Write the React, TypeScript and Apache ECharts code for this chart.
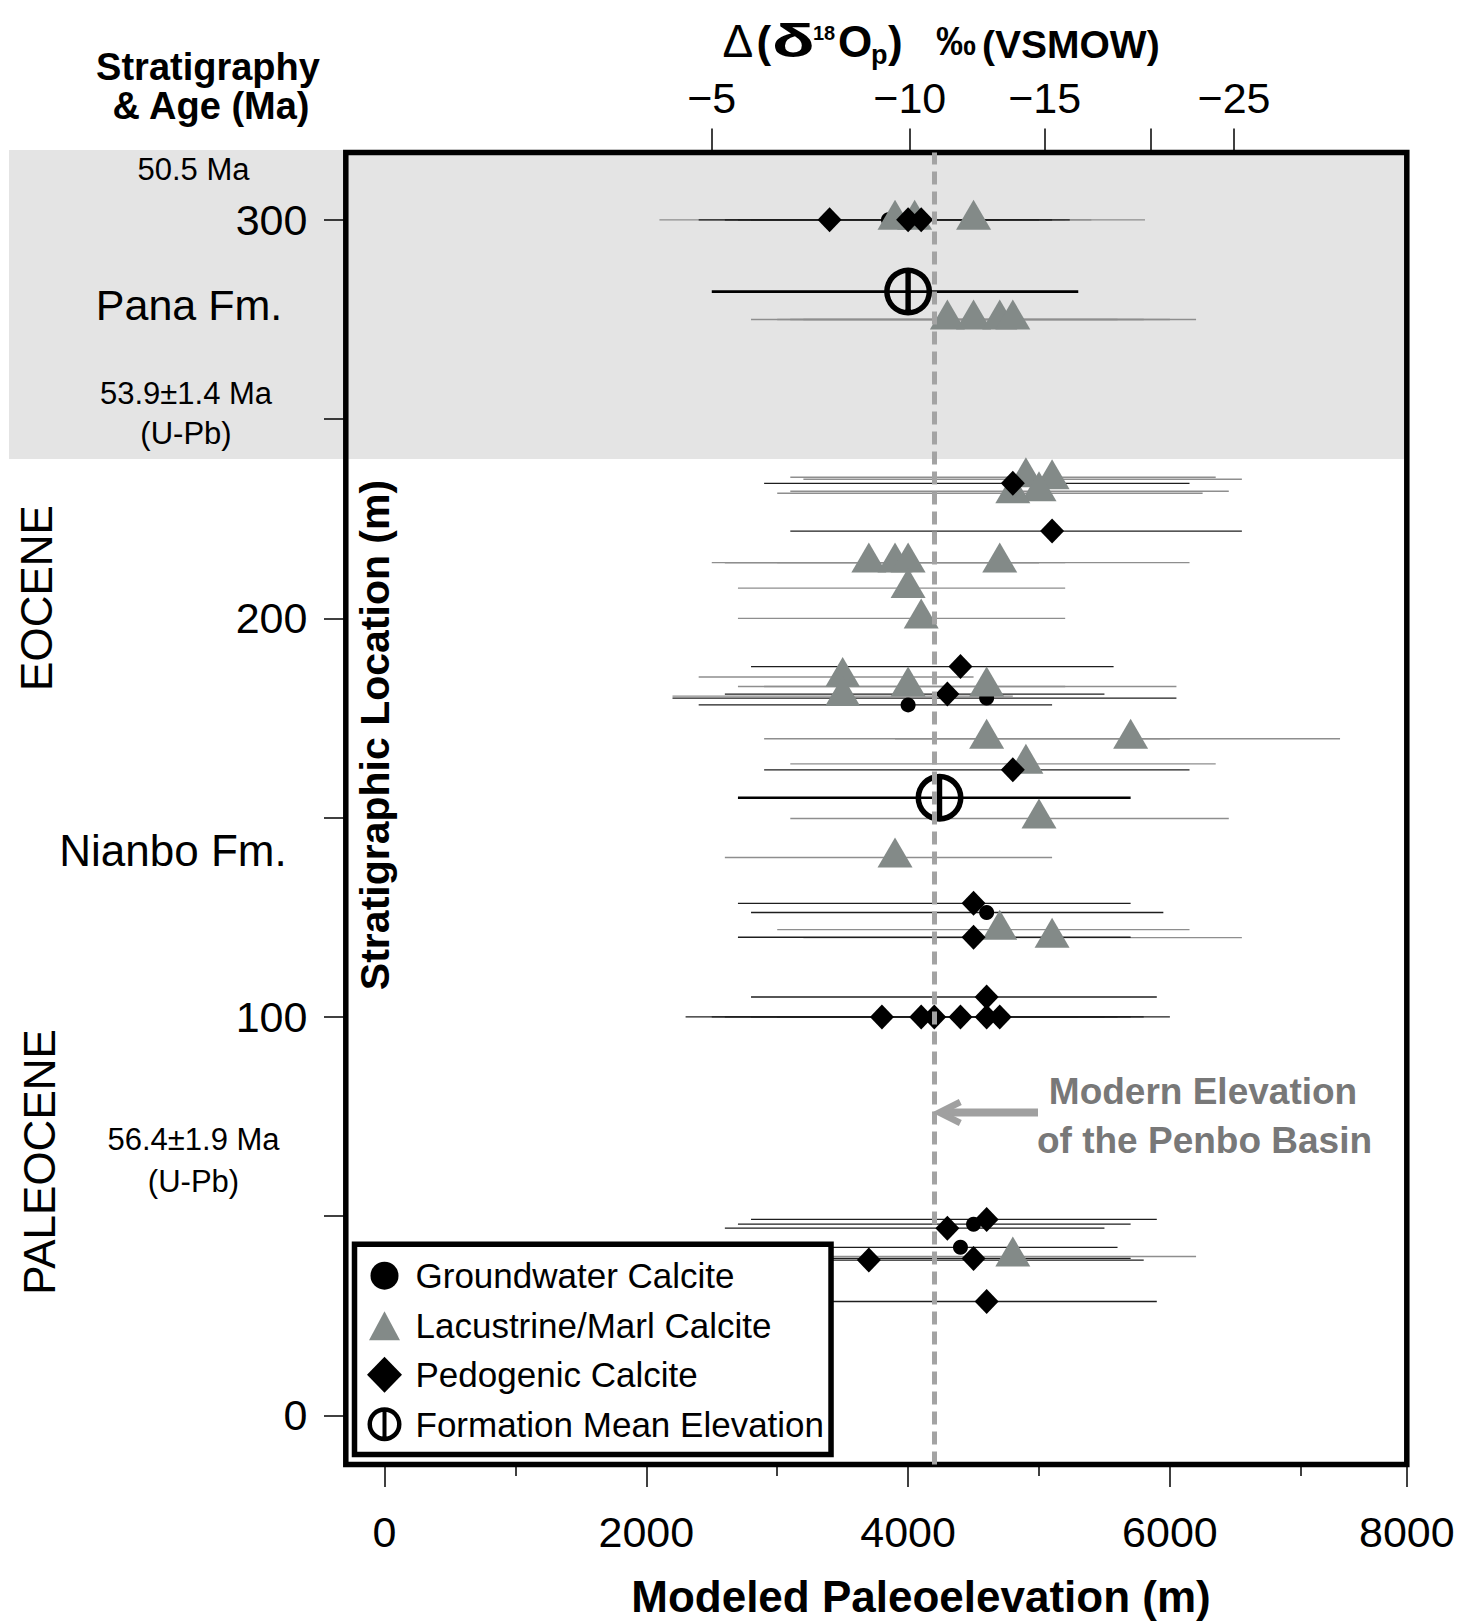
import React, { useEffect, useRef } from 'react';
import * as echarts from 'echarts';

// ---------------- data ----------------
// each row: [modeled paleoelevation (m), stratigraphic location (m), error low (m), error high (m)]
const groundwaterCalcite: number[][] = [
  [3850, 300, 2600, 5000],
  [4600, 180, 2200, 6050],
  [4000, 178.3, 2400, 5100],
  [4600, 126.2, 2800, 5950],
  [4500, 48, 2700, 5700],
  [4400, 42.2, 2700, 5600],
];

const lacustrineCalcite: number[][] = [
  [3900, 300, 2100, 5200],
  [4050, 300, 2600, 5400],
  [4500, 300, 3000, 5810],
  [4300, 275, 2800, 5600],
  [4500, 275, 3000, 5800],
  [4700, 275, 3100, 6000],
  [4800, 275, 3200, 6200],
  [4900, 235.4, 3100, 6350],
  [5100, 234.9, 3200, 6550],
  [5000, 231.9, 3100, 6450],
  [4800, 231.4, 3000, 6250],
  [3700, 214, 2500, 5000],
  [3900, 214, 2600, 5200],
  [4000, 214, 2600, 5000],
  [4700, 214, 3000, 6150],
  [4000, 207.6, 2700, 5200],
  [4100, 200, 2700, 5200],
  [3500, 185.3, 2400, 4500],
  [4000, 182.9, 2700, 5200],
  [4600, 182.9, 2900, 6050],
  [3500, 180.5, 2200, 4800],
  [4600, 169.8, 2900, 6000],
  [5700, 169.8, 3900, 7300],
  [4900, 163.5, 3100, 6350],
  [5000, 149.8, 3100, 6450],
  [3900, 140, 2600, 5100],
  [4700, 121.9, 3000, 6150],
  [5100, 119.9, 3200, 6550],
  [4800, 39.9, 3100, 6200],
];

const pedogenicCalcite: number[][] = [
  [3400, 300, 2400, 4700],
  [4000, 300, 2700, 5100],
  [4100, 300, 2800, 5235],
  [4800, 233.9, 2900, 6150],
  [5100, 221.9, 3100, 6550],
  [4400, 187.9, 2800, 5570],
  [4300, 181, 2600, 5500],
  [4800, 162, 2900, 6150],
  [4500, 128.5, 2700, 5700],
  [4500, 120, 2700, 5700],
  [4600, 105, 2800, 5900],
  [3800, 100, 2300, 5300],
  [4100, 100, 2500, 5500],
  [4200, 100, 2600, 5600],
  [4400, 100, 2800, 5800],
  [4600, 100, 3000, 6000],
  [4700, 100, 3100, 5700],
  [4600, 49.2, 2800, 5900],
  [4300, 47, 2600, 5500],
  [4500, 39.4, 2800, 5700],
  [3700, 39, 2000, 5800],
  [4600, 28.6, 2800, 5900],
];

const formationMean: number[][] = [
  [4000, 282, 2500, 5300], // Pana Fm.
  [4240, 155, 2700, 5700], // Nianbo Fm.
];

const MODERN_ELEVATION = 4200; // Penbo Basin
const PANA_BASE = 240; // base of shaded Pana Fm. interval (m)

// axes
const X_MIN = -296;
const X_MAX = 7810;
const Y_MIN = -12.3;
const Y_MAX = 316.9;
const bottomMajorTicks = [0, 2000, 4000, 6000, 7810];
const bottomMajorLabels = ['0', '2000', '4000', '6000', '8000'];
const bottomMinorTicks = [1000, 3000, 5000, 7000];
const topTicks = [2500, 4013, 5043, 5855, 6490];
const topLabels = ['\u22125', '\u221210', '\u221215', '', '\u221225'];
const leftTicks = [0, 50, 100, 150, 200, 250, 300];
const leftLabels = [0, 100, 200, 300];

// ---------------- styling ----------------
const W = 1477;
const H = 1623;
const FONT = '"Liberation Sans", Arial, Helvetica, sans-serif';
const TRI_COLOR = '#838a88';
const GRAY_BAR = '#8e8e8e';
const BLACK_BAR = '#1e1e1e';

const MEAN_SYMBOL =
  'path://M0 24A24 24 0 1 1 48 24A24 24 0 1 1 0 24ZM5.5 24A18.5 18.5 0 1 0 42.5 24A18.5 18.5 0 1 0 5.5 24ZM21.3 5L26.7 5L26.7 43L21.3 43Z';
const ICON_CIRCLE = 'path://M0 0M36 36M4 18A14 14 0 1 1 32 18A14 14 0 1 1 4 18Z';
const ICON_TRI = 'path://M0 0M36 36M18 4L33.5 33L2.5 33Z';
const ICON_DIAMOND = 'path://M0 0M36 36M18 0L35.5 18L18 36L0.5 18Z';
const ICON_MEAN =
  'path://M0 0M36 36M1 18A17 17 0 1 1 35 18A17 17 0 1 1 1 18ZM5.5 18A12.5 12.5 0 1 0 30.5 18A12.5 12.5 0 1 0 5.5 18ZM16 5L20 5L20 31L16 31Z';

function errorBars(name: string, data: number[][], color: string, width: number) {
  return {
    type: 'custom',
    name,
    xAxisIndex: 0,
    yAxisIndex: 0,
    silent: true,
    z: 2,
    data,
    encode: { x: [2, 3], y: 1 },
    renderItem: (params: any, api: any) => {
      const y = api.value(1);
      const a = api.coord([api.value(2), y]);
      const b = api.coord([api.value(3), y]);
      return {
        type: 'line',
        shape: { x1: a[0], y1: a[1], x2: b[0], y2: b[1] },
        style: { stroke: color, lineWidth: width },
      };
    },
  };
}

function txt(text: string, x: number, y: number, size: number, opts: any = {}) {
  return {
    type: 'text',
    x,
    y,
    rotation: opts.rotation || 0,
    scaleX: opts.scaleX || 1,
    z: 10,
    silent: true,
    style: {
      text,
      fontSize: size,
      fontWeight: opts.bold ? 'bold' : 'normal',
      fontFamily: FONT,
      fill: opts.color || '#000',
      align: opts.align || 'center',
      verticalAlign: 'middle',
    },
  };
}

const hiddenLine = { show: false, onZero: false };

export default function App() {
  const ref = useRef<HTMLDivElement>(null);

  useEffect(() => {
    const chart = echarts.init(ref.current!, null, { renderer: 'svg', width: W, height: H });

    const option: any = {
      animation: false,
      backgroundColor: '#ffffff',
      grid: {
        left: 345.8,
        top: 152.5,
        width: 1061,
        height: 1312,
        show: true,
        borderColor: '#000',
        borderWidth: 5.5,
        backgroundColor: 'transparent',
        containLabel: false,
        outerBoundsMode: 'none',
      },
      xAxis: [
        {
          type: 'value',
          min: X_MIN,
          max: X_MAX,
          position: 'bottom',
          axisLine: hiddenLine,
          splitLine: { show: false },
          axisTick: {
            show: true,
            inside: false,
            length: 22.5,
            lineStyle: { color: '#000', width: 1.5 },
            customValues: bottomMajorTicks,
          },
          axisLabel: {
            customValues: bottomMajorTicks,
            formatter: (v: number) => bottomMajorLabels[bottomMajorTicks.indexOf(v)] ?? '',
            margin: 46,
            fontSize: 43,
            color: '#000',
            fontFamily: FONT,
          },
        },
        {
          type: 'value',
          min: X_MIN,
          max: X_MAX,
          position: 'bottom',
          axisLine: hiddenLine,
          splitLine: { show: false },
          axisTick: {
            show: true,
            inside: false,
            length: 11.5,
            lineStyle: { color: '#000', width: 1.5 },
            customValues: bottomMinorTicks,
          },
          axisLabel: { show: false },
        },
        {
          type: 'value',
          min: X_MIN,
          max: X_MAX,
          position: 'top',
          axisLine: hiddenLine,
          splitLine: { show: false },
          axisTick: {
            show: true,
            inside: false,
            length: 24,
            lineStyle: { color: '#000', width: 1.5 },
            customValues: topTicks,
          },
          axisLabel: {
            customValues: topTicks,
            formatter: (v: number) => topLabels[topTicks.indexOf(v)] ?? '',
            margin: 33,
            fontSize: 43,
            color: '#000',
            fontFamily: FONT,
          },
        },
      ],
      yAxis: [
        {
          type: 'value',
          min: Y_MIN,
          max: Y_MAX,
          position: 'left',
          axisLine: hiddenLine,
          splitLine: { show: false },
          axisTick: {
            show: true,
            inside: false,
            length: 21.8,
            lineStyle: { color: '#000', width: 1.5 },
            customValues: leftTicks,
          },
          axisLabel: {
            customValues: leftLabels,
            margin: 38.4,
            fontSize: 43,
            color: '#000',
            fontFamily: FONT,
          },
        },
      ],
      legend: {
        orient: 'vertical',
        left: 354.5,
        top: 1244.2,
        padding: [13.5, 7, 12.3, 12],
        itemGap: 13.5,
        itemWidth: 40,
        itemHeight: 36,
        selectedMode: false,
        backgroundColor: '#ffffff',
        borderColor: '#000',
        borderWidth: 5.5,
        textStyle: {
          fontSize: 35,
          lineHeight: 36,
          color: '#000',
          fontFamily: FONT,
          padding: [0, 0, 0, 6],
        },
        data: [
          { name: 'Groundwater Calcite', icon: ICON_CIRCLE },
          { name: 'Lacustrine/Marl Calcite', icon: ICON_TRI },
          { name: 'Pedogenic Calcite', icon: ICON_DIAMOND },
          { name: 'Formation Mean Elevation', icon: ICON_MEAN },
        ],
      },
      series: [
        errorBars('lacustrine-err', lacustrineCalcite, GRAY_BAR, 1.4),
        errorBars('groundwater-err', groundwaterCalcite, BLACK_BAR, 1.3),
        errorBars('pedogenic-err', pedogenicCalcite, BLACK_BAR, 1.3),
        errorBars('mean-err', formationMean, '#000', 2.6),
        {
          type: 'line',
          name: 'modern',
          data: [],
          silent: true,
          z: 2,
          markLine: {
            silent: true,
            symbol: ['none', 'none'],
            label: { show: false },
            lineStyle: { color: '#a3a3a3', width: 5, type: [13, 7] },
            data: [{ xAxis: MODERN_ELEVATION }],
          },
        },
        {
          type: 'scatter',
          name: 'Groundwater Calcite',
          data: groundwaterCalcite,
          symbol: 'circle',
          symbolSize: 15,
          itemStyle: { color: '#000', opacity: 1 },
          z: 3,
        },
        {
          type: 'scatter',
          name: 'Lacustrine/Marl Calcite',
          data: lacustrineCalcite,
          symbol: 'triangle',
          symbolSize: [35, 30],
          symbolOffset: [0, -5],
          itemStyle: { color: TRI_COLOR, opacity: 1 },
          z: 3,
        },
        {
          type: 'scatter',
          name: 'Pedogenic Calcite',
          data: pedogenicCalcite,
          symbol: 'diamond',
          symbolSize: [24, 25],
          itemStyle: { color: '#000', opacity: 1 },
          z: 3,
        },
        {
          type: 'scatter',
          name: 'Formation Mean Elevation',
          data: formationMean,
          symbol: MEAN_SYMBOL,
          symbolSize: 48,
          symbolKeepAspect: true,
          itemStyle: { color: '#000', opacity: 1 },
          z: 4,
        },
      ],
    };

    chart.setOption(option);

    const yBand = chart.convertToPixel({ yAxisIndex: 0 }, PANA_BASE) as number;
    const xRight = chart.convertToPixel({ xAxisIndex: 0 }, X_MAX) as number;
    const xModern = chart.convertToPixel({ xAxisIndex: 0 }, MODERN_ELEVATION) as number;
    const arrowY = 1112.5;

    chart.setOption({
      graphic: {
        elements: [
          {
            type: 'rect',
            z: -5,
            silent: true,
            shape: { x: 9, y: 150, width: xRight - 9, height: yBand - 150 },
            style: { fill: '#e4e4e4' },
          },
          // title pieces (top axis)
          txt('\u0394', 722.5, 41, 46, { align: 'left' }),
          txt('(', 756.5, 41, 44, { align: 'left', bold: true }),
          txt('\u03b4', 772, 41, 47, { align: 'left', bold: true, scaleX: 1.5 }),
          txt('18', 813, 33, 20, { align: 'left', bold: true }),
          txt('O', 838, 41, 44, { align: 'left', bold: true }),
          txt('p', 871, 55, 27, { align: 'left', bold: true }),
          txt(')', 888, 41, 44, { align: 'left', bold: true }),
          txt('\u2030', 936, 41, 40, { align: 'left', bold: true }),
          txt('(VSMOW)', 982, 44, 39, { align: 'left', bold: true }),
          // left annotations
          txt('Stratigraphy', 208, 67, 38, { bold: true }),
          txt('& Age (Ma)', 211, 106, 38, { bold: true }),
          txt('50.5 Ma', 193.5, 169, 31),
          txt('Pana Fm.', 189, 305, 43),
          txt('53.9\u00b11.4 Ma', 186, 393, 31),
          txt('(U-Pb)', 186, 433, 31),
          txt('EOCENE', 36, 598, 44, { rotation: Math.PI / 2 }),
          txt('Nianbo Fm.', 173, 850, 44),
          txt('PALEOCENE', 39, 1162, 44, { rotation: Math.PI / 2 }),
          txt('56.4\u00b11.9 Ma', 193.5, 1139.5, 31),
          txt('(U-Pb)', 193.5, 1181, 31),
          // axis titles
          txt('Stratigraphic Location (m)', 375, 735, 41, { bold: true, rotation: Math.PI / 2 }),
          txt('Modeled Paleoelevation (m)', 921, 1596, 44, { bold: true }),
          // modern elevation annotation
          txt('Modern Elevation', 1203, 1091.5, 37, { bold: true, color: '#787878' }),
          txt('of the Penbo Basin', 1204.5, 1140, 37, { bold: true, color: '#787878' }),
          {
            type: 'line',
            z: 10,
            silent: true,
            shape: { x1: xModern + 8, y1: arrowY, x2: 1038, y2: arrowY },
            style: { stroke: '#a0a0a0', lineWidth: 8 },
          },
          {
            type: 'polyline',
            z: 10,
            silent: true,
            shape: {
              points: [
                [xModern + 26, arrowY - 10.5],
                [xModern + 5, arrowY],
                [xModern + 26, arrowY + 10.5],
              ],
            },
            style: { stroke: '#a0a0a0', lineWidth: 6.5, fill: 'none' },
          },
        ],
      },
    });

    return () => chart.dispose();
  }, []);

  return (
    <div
      ref={ref}
      style={{ position: 'absolute', left: 0, top: 0, width: W, height: H }}
    />
  );
}
